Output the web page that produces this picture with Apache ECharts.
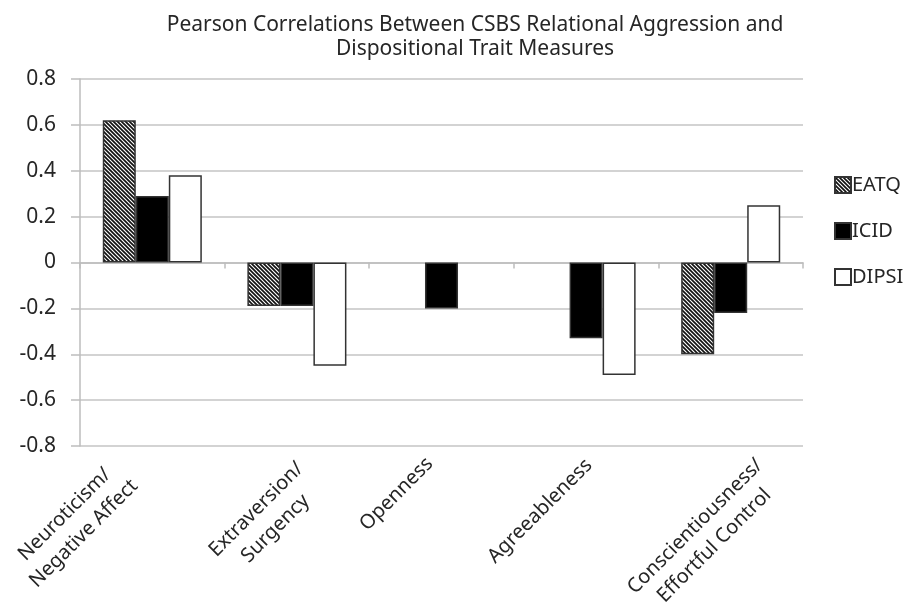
<!DOCTYPE html>
<html>
<head>
<meta charset="utf-8">
<script src="https://cdn.jsdelivr.net/npm/echarts@6.0.0/dist/echarts.min.js"></script>
<style>
html,body{margin:0;padding:0;background:#fff;}
#chart{width:907px;height:612px;}
</style>
</head>
<body>
<div id="chart"></div>
<script>
const titleText = 'Pearson Correlations Between CSBS Relational Aggression and\nDispositional Trait Measures';
const categories = ['Neuroticism/\nNegative Affect', 'Extraversion/\nSurgency', 'Openness', 'Agreeableness', 'Conscientiousness/\nEffortful Control'];
const seriesNames = ['EATQ', 'ICID', 'DIPSI'];
const eatq  = [0.62, -0.19, null, null, -0.40];
const icid  = [0.29, -0.19, -0.20, -0.33, -0.22];
const dipsi = [0.38, -0.45, null, -0.49, 0.25];
const yTicks = { min: -0.8, max: 0.8, step: 0.2 };

// placement of the rotated category labels (centre of each text block,
// relative to its category's pixel position on the x axis)
const labelPlacement = [
  { dx: -78, y: 524 },
  { dx: -31, y: 519 },
  { dx: -45, y: 494 },
  { dx: -46, y: 511 },
  { dx: -26, y: 536 }
];

function makeHatch() {
  const c = document.createElement('canvas');
  c.width = 8; c.height = 8;
  const ctx = c.getContext('2d');
  ctx.fillStyle = '#fff';
  ctx.fillRect(0, 0, 8, 8);
  ctx.strokeStyle = '#111';
  ctx.lineWidth = 1.7;
  for (let k = -12; k <= 12; k += 4) {
    ctx.beginPath();
    ctx.moveTo(-2, -2 + k);
    ctx.lineTo(10, 10 + k);
    ctx.stroke();
  }
  return c;
}
const hatch = makeHatch();

const FONT = '"Noto Sans", "Open Sans", sans-serif';
const TEXT = '#262626';
const chart = echarts.init(document.getElementById('chart'));
const barBorder = { borderColor: '#333', borderWidth: 1.5 };

chart.setOption({
  animation: false,
  backgroundColor: '#fff',
  title: {
    text: titleText,
    left: 470,
    top: 8,
    textAlign: 'center',
    textStyle: { fontFamily: FONT, fontSize: 21, fontWeight: 'normal', color: TEXT, lineHeight: 24 }
  },
  legend: {
    orient: 'vertical',
    left: 829,
    top: 169,
    icon: 'rect',
    itemWidth: 16,
    itemHeight: 16,
    itemGap: 24,
    data: seriesNames,
    textStyle: { fontFamily: FONT, fontSize: 20, color: TEXT, lineHeight: 22, padding: [0, 0, 0, -4] }
  },
  grid: { left: 80, right: 104, top: 79, bottom: 166, containLabel: false },
  xAxis: [
    {
      type: 'category',
      data: categories,
      position: 'bottom',
      axisLine: { show: false, onZero: false },
      axisTick: { show: false },
      axisLabel: { show: false }
    },
    {
      type: 'category',
      data: categories,
      position: 'bottom',
      axisLine: { show: true, onZero: true, lineStyle: { color: '#bdbdbd', width: 1.5 } },
      axisTick: { show: true, length: 6, lineStyle: { color: '#bdbdbd', width: 1.5 } },
      axisLabel: { show: false }
    }
  ],
  yAxis: {
    type: 'value',
    min: yTicks.min,
    max: yTicks.max,
    interval: yTicks.step,
    axisLine: { show: true, lineStyle: { color: '#bdbdbd', width: 1.5 } },
    axisTick: { show: true, length: 9, lineStyle: { color: '#bdbdbd', width: 1.5 } },
    splitLine: { show: true, lineStyle: { color: '#c4c4c4', width: 1.5 } },
    axisLabel: {
      margin: 24,
      fontFamily: FONT,
      fontSize: 21,
      color: TEXT,
      formatter: v => (Math.abs(v) < 1e-9 ? '0' : v.toFixed(1))
    }
  },
  series: [
    { name: seriesNames[0], type: 'bar', data: eatq, barGap: '0%', barCategoryGap: '31.5%',
      itemStyle: Object.assign({ color: { image: hatch, repeat: 'repeat' } }, barBorder) },
    { name: seriesNames[1], type: 'bar', data: icid, barGap: '0%', barCategoryGap: '31.5%',
      itemStyle: Object.assign({ color: '#000' }, barBorder) },
    { name: seriesNames[2], type: 'bar', data: dipsi, barGap: '0%', barCategoryGap: '31.5%',
      itemStyle: Object.assign({ color: '#fff' }, barBorder) }
  ]
});

const labels = categories.map((name, i) => {
  const px = chart.convertToPixel({ xAxisIndex: 0 }, i);
  return {
    type: 'text',
    x: px + labelPlacement[i].dx,
    y: labelPlacement[i].y,
    rotation: Math.PI / 4,
    silent: true,
    style: {
      text: name,
      fontFamily: FONT,
      fontSize: 20,
      lineHeight: 27,
      fill: TEXT,
      align: 'center',
      verticalAlign: 'middle'
    }
  };
});
chart.setOption({ graphic: labels });
</script>
</body>
</html>
